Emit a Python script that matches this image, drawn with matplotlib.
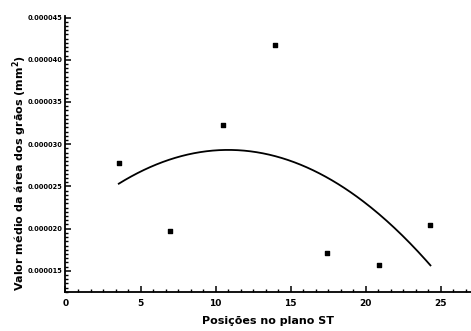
import numpy as np
import matplotlib
matplotlib.use("Agg")
import matplotlib.pyplot as plt
from matplotlib.ticker import AutoMinorLocator, FormatStrFormatter

# Mean grain area per position on the ST plane
positions = [3.55, 6.93, 10.47, 13.95, 17.4, 20.9, 24.3]
mean_area = [27.8e-6, 19.7e-6, 32.3e-6, 41.8e-6, 17.1e-6, 15.7e-6, 20.4e-6]

x_ticks = [0, 5, 10, 15, 20, 25]
y_ticks = [0.000015, 0.000020, 0.000025, 0.000030, 0.000035, 0.000040, 0.000045]

fig = plt.figure(figsize=(4.71, 3.31), dpi=100)
ax = fig.add_axes([0.139, 0.118, 0.861, 0.834])

# Second-order polynomial trend over the sampled range
coef = np.polyfit(positions, mean_area, 2)
xs = np.linspace(min(positions), max(positions), 200)
ax.plot(xs, np.polyval(coef, xs), color="black", lw=1.3)

ax.scatter(positions, mean_area, marker="s", s=9, color="black", zorder=3)

ax.set_xlim(0, 27)
ax.set_ylim(12.5e-6, 45.2e-6)
ax.set_xticks(x_ticks)
ax.set_yticks(y_ticks)
ax.xaxis.set_minor_locator(AutoMinorLocator(6))
ax.yaxis.set_minor_locator(AutoMinorLocator(10))
ax.yaxis.set_major_formatter(FormatStrFormatter("%.6f"))

for side in ("top", "right"):
    ax.spines[side].set_visible(False)
for side in ("left", "bottom"):
    ax.spines[side].set_linewidth(1.3)

ax.tick_params(which="major", direction="in", length=4, width=1.1)
ax.tick_params(which="minor", direction="in", length=2, width=1.0)
ax.tick_params(axis="x", labelsize=6.5, pad=5)
ax.tick_params(axis="y", labelsize=4.8, pad=2)
for lab in ax.get_xticklabels() + ax.get_yticklabels():
    lab.set_fontweight("bold")

ax.set_xlabel("Posições no plano ST", fontsize=8, fontweight="bold", labelpad=6)
ax.set_ylabel("Valor médio da área dos grãos (mm$^\\mathbf{2}$)", fontsize=8,
              fontweight="bold")
ax.yaxis.set_label_coords(-0.09, 0.43)

fig.savefig("out.png", dpi=100, facecolor="white")
